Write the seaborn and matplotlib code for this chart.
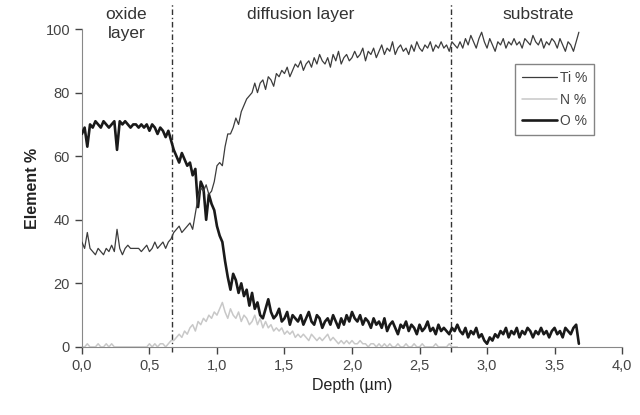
import numpy as np
import seaborn as sns
import matplotlib
matplotlib.use("Agg")
import matplotlib.pyplot as plt
from matplotlib.ticker import FuncFormatter

# depth sampling grid (um), one point every 0.02 um
depth = np.round(np.arange(0, 3.69, 0.02), 2)

ti = [33, 31, 36, 31, 30, 29, 31, 30, 29, 31,
      30, 32, 30, 37, 31, 29, 31, 32, 31, 31,
      31, 31, 30, 31, 32, 30, 31, 33, 31, 32,
      33, 31, 33, 34, 36, 37, 38, 36, 37, 38,
      39, 37, 42, 47, 50, 49, 51, 48, 49, 52,
      57, 58, 57, 63, 67, 67, 69, 72, 70, 74,
      76, 78, 79, 80, 83, 80, 83, 84, 81, 85,
      84, 82, 86, 85, 87, 86, 88, 85, 87, 89,
      88, 90, 87, 89, 90, 88, 91, 89, 92, 90,
      89, 91, 88, 92, 90, 93, 89, 91, 92, 90,
      91, 93, 91, 92, 94, 90, 93, 92, 94, 91,
      93, 95, 92, 94, 93, 96, 92, 94, 95, 93,
      94, 92, 95, 93, 96, 94, 93, 95, 94, 96,
      93, 95, 94, 96, 94, 95, 93, 96, 95, 94,
      96, 94, 97, 95, 98, 96, 94, 97, 99, 96,
      94, 97, 95, 93, 96, 95, 97, 94, 96, 95,
      97, 95, 96, 94, 97, 96, 95, 98, 96, 95,
      97, 94, 96, 95, 97, 96, 94, 97, 95, 93,
      96, 95, 93, 96, 99]

o = [67, 69, 63, 70, 69, 71, 70, 69, 71, 70,
     69, 70, 71, 62, 71, 70, 71, 70, 69, 70,
     70, 69, 70, 69, 70, 68, 70, 69, 67, 69,
     68, 66, 68, 65, 62, 60, 58, 61, 59, 57,
     58, 54, 56, 44, 52, 50, 40, 48, 45, 43,
     38, 35, 33, 27, 22, 18, 23, 21, 17, 20,
     16, 18, 13, 17, 12, 14, 10, 9, 12, 15,
     11, 9, 10, 12, 8, 9, 11, 7, 10, 9,
     8, 10, 7, 9, 11, 8, 7, 10, 9, 6,
     8, 9, 7, 10, 8, 6, 9, 7, 10, 8,
     11, 9, 8, 10, 7, 9, 8, 6, 9, 7,
     8, 6, 9, 5, 7, 8, 6, 4, 7, 6,
     8, 5, 7, 6, 4, 7, 5, 6, 8, 5,
     6, 4, 7, 5, 6, 5, 4, 6, 5, 7,
     5, 4, 6, 3, 5, 4, 6, 3, 4, 2,
     1, 3, 2, 4, 3, 5, 4, 6, 3, 5,
     4, 6, 3, 5, 4, 6, 5, 3, 5, 4,
     6, 4, 5, 3, 5, 6, 4, 5, 3, 6,
     5, 4, 6, 7, 1]

n = [0, 0, 1, 0, 0, 0, 1, 0, 0, 1,
     0, 1, 0, 0, 0, 0, 0, 0, 0, 0,
     0, 0, 0, 0, 0, 1, 0, 1, 0, 1,
     1, 0, 1, 2, 2, 3, 4, 3, 5, 4,
     6, 7, 5, 8, 7, 9, 8, 10, 9, 11,
     10, 12, 14, 11, 9, 12, 10, 9, 11, 8,
     10, 9, 7, 8, 10, 7, 9, 6, 8, 6,
     7, 5, 6, 5, 6, 4, 5, 4, 5, 3,
     4, 3, 4, 3, 2, 4, 3, 2, 3, 2,
     3, 4, 2, 3, 2, 1, 2, 1, 2, 1,
     2, 1, 1, 2, 1, 1, 0, 1, 1, 0,
     1, 0, 1, 0, 1, 0, 0, 1, 0, 0,
     1, 0, 0, 1, 0, 0, 1, 0, 0, 0,
     0, 1, 0, 0, 0, 0, 1, 0, 0, 0]

boundaries = [0.67, 2.73]
regions = ["oxide\nlayer", "diffusion layer", "substrate"]
region_x = [0.33, 1.62, 3.38]

sns.set_style("ticks")
plt.rcParams['font.family'] = ['Liberation Sans', 'DejaVu Sans']

fig = plt.figure(figsize=(6.4, 4.15), dpi=100)
ax = fig.add_axes([0.128, 0.164, 0.844, 0.766])

sns.lineplot(x=depth, y=o, ax=ax, color="#1a1a1a", lw=1.9, label="O %", zorder=3)
sns.lineplot(x=depth[:len(n)], y=n, ax=ax, color="#c8c8c8", lw=1.1, label="N %", zorder=2)
sns.lineplot(x=depth, y=ti, ax=ax, color="#3c3c3c", lw=0.9, label="Ti %", zorder=4)

for b in boundaries:
    ax.axvline(b, ymin=-0.017, ymax=1.08, color="#333333", lw=1.0,
               ls=(0, (4, 2, 1, 2)), clip_on=False, zorder=1)

for t, xx in zip(regions, region_x):
    ax.text(xx, 1.068, t, ha="center", va="top", fontsize=12.5, color="#333333",
            linespacing=1.3, transform=ax.get_xaxis_transform(), clip_on=False)

ax.set_xlim(0, 4)
ax.set_ylim(0, 100)
ax.set_xticks(np.arange(0, 4.01, 0.5))
ax.set_yticks(range(0, 101, 20))
ax.xaxis.set_major_formatter(FuncFormatter(lambda v, p: f"{v:.1f}".replace(".", ",")))
ax.tick_params(colors="#444444", labelsize=10.5, length=5, width=1, direction="out")
for s in ["left", "bottom"]:
    ax.spines[s].set_color("#888888")
sns.despine(ax=ax)

ax.set_xlabel("Depth (\u00b5m)", fontsize=11.5, color="#222222")
ax.set_ylabel("Element %", fontsize=11.5, fontweight="bold", color="#222222")

h, l = ax.get_legend_handles_labels()
order = [2, 1, 0]
leg = ax.legend([h[i] for i in order], [l[i] for i in order],
                loc="upper right", bbox_to_anchor=(0.948, 0.89), borderaxespad=0,
                fontsize=10, frameon=True, fancybox=False, edgecolor="#666666",
                handlelength=2.5, handletextpad=0.2, borderpad=0.5,
                labelspacing=0.55, markerfirst=True)
for t in leg.get_texts():
    t.set_color("#444444")

fig.savefig("out.png", dpi=100)
